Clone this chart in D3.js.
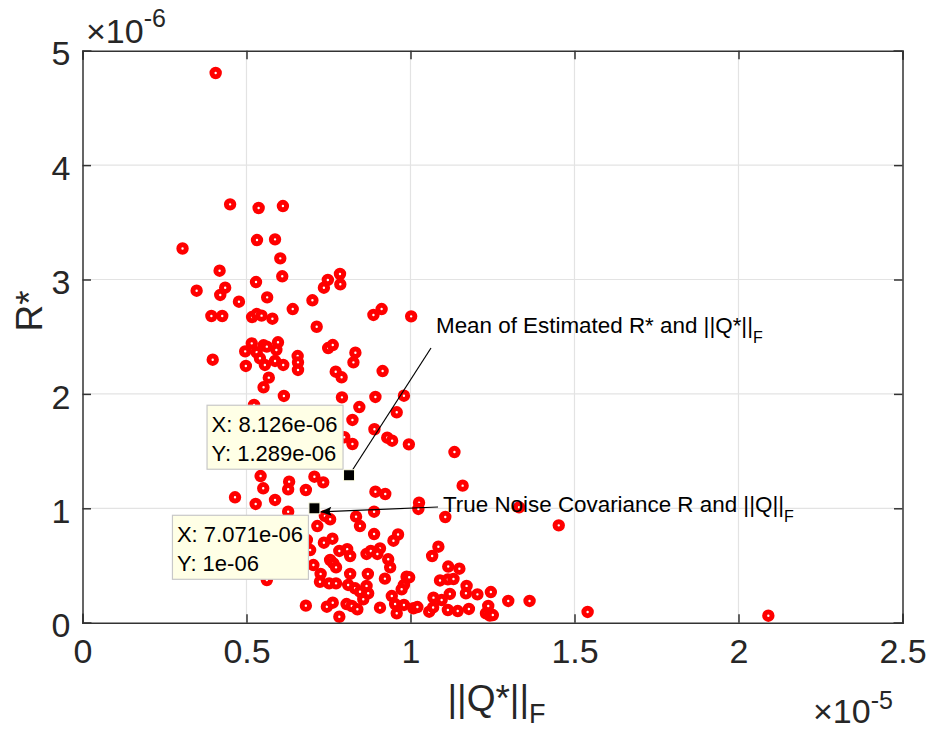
<!DOCTYPE html>
<html lang="en">
<head>
<meta charset="utf-8">
<title>R* vs ||Q*||F</title>
<script src="https://d3js.org/d3.v7.min.js"></script>
<style>
  body { margin: 0; padding: 0; background: #fff; overflow: hidden; }
  text { font-family: "Liberation Sans", Arial, Helvetica, sans-serif; }
</style>
</head>
<body>
<svg id="chart"></svg>
<script>
// ||Q*||_F estimates, in units of 1e-5
const qNorm = [
  0.406, 0.450, 0.537, 0.611, 0.305, 0.532, 0.587, 0.603, 0.418, 0.609,
  0.529, 0.348, 0.435, 0.420, 0.477, 0.563, 0.393, 0.426, 0.517, 0.531,
  0.546, 0.579, 0.641, 0.701, 0.736, 0.748, 0.785, 0.786, 0.714, 0.397,
  0.516, 0.496, 0.531, 0.552, 0.562, 0.596, 0.591, 0.541, 0.556, 0.587,
  0.612, 0.498, 0.656, 0.657, 0.657, 0.749, 0.763, 0.832, 0.826, 0.772,
  0.790, 0.568, 0.552, 0.887, 0.912, 1.002, 0.915, 0.791, 0.893, 0.980,
  0.844, 0.958, 0.823, 0.890, 0.929, 0.944, 0.995, 0.823, 0.798, 1.134,
  0.707, 0.734, 0.681, 0.893, 0.923, 1.026, 1.024, 1.159, 1.331, 1.106,
  1.452, 0.962, 0.948, 1.085, 1.066, 1.115, 1.149, 0.988, 0.996, 0.980,
  0.973, 1.090, 1.114, 1.131, 1.171, 1.169, 1.204, 1.245, 1.298, 1.363,
  1.070, 1.095, 1.120, 0.980, 1.009, 1.021, 1.057, 1.069, 1.114, 1.144,
  1.178, 1.230, 1.237, 1.242, 1.251, 1.540, 2.091, 0.889, 0.834, 0.846,
  0.739, 0.755, 0.716, 0.889, 0.762, 0.736, 0.684, 0.694, 0.783, 0.807,
  0.816, 0.866, 0.879, 0.907, 0.899, 0.755, 0.765, 0.773, 0.932, 0.938,
  0.704, 0.726, 0.724, 0.816, 0.870, 0.922, 0.752, 0.773, 0.810, 0.831,
  0.846, 0.866, 0.871, 0.856, 0.943, 0.953, 0.681, 0.745, 0.763, 0.805,
  0.821, 0.838, 0.907, 0.958, 0.783, 0.614, 0.523, 0.543, 0.551, 0.630,
  0.627, 0.465, 0.528, 0.587, 0.627, 0.562
];

// R* estimates, in units of 1e-6
const rStar = [
  4.805, 3.657, 3.625, 3.642, 3.271, 3.345, 3.351, 3.185, 3.077, 3.028,
  2.978, 2.902, 2.928, 2.865, 2.806, 2.844, 2.681, 2.681, 2.672, 2.698,
  2.684, 2.657, 2.742, 2.818, 2.928, 2.996, 3.048, 2.958, 2.587, 2.299,
  2.442, 2.372, 2.364, 2.425, 2.413, 2.451, 2.384, 2.311, 2.253, 2.288,
  2.253, 2.244, 2.331, 2.276, 2.209, 2.401, 2.427, 2.360, 2.276, 2.194,
  2.145, 2.142, 2.058, 2.690, 2.742, 2.678, 2.200, 1.970, 1.973, 1.984,
  1.885, 1.839, 1.772, 1.691, 1.617, 1.591, 1.559, 1.562, 1.621, 1.492,
  1.276, 1.227, 1.160, 1.145, 1.125, 1.049, 0.994, 1.198, 1.009, 0.924,
  0.851, 0.771, 0.717, 0.664, 0.583, 0.491, 0.472, 0.402, 0.397, 0.330,
  0.292, 0.369, 0.379, 0.382, 0.321, 0.257, 0.248, 0.268, 0.190, 0.190,
  0.219, 0.198, 0.251, 0.155, 0.126, 0.137, 0.096, 0.133, 0.111, 0.102,
  0.120, 0.082, 0.146, 0.063, 0.067, 0.094, 0.061, 0.970, 0.927, 0.845,
  0.933, 0.904, 0.845, 0.775, 0.734, 0.699, 0.723, 0.635, 0.627, 0.642,
  0.583, 0.601, 0.627, 0.650, 0.601, 0.548, 0.519, 0.484, 0.554, 0.484,
  0.504, 0.426, 0.358, 0.426, 0.426, 0.385, 0.344, 0.344, 0.330, 0.301,
  0.271, 0.321, 0.257, 0.205, 0.233, 0.163, 0.149, 0.140, 0.175, 0.163,
  0.146, 0.117, 0.131, 0.082, 0.052, 1.982, 1.903, 1.282, 1.175, 1.233,
  1.166, 1.096, 1.038, 1.073, 0.970, 0.373
];

const xTicks = [0, 0.5, 1, 1.5, 2, 2.5];
const xTickLabels = ["0", "0.5", "1", "1.5", "2", "2.5"];
const yTicks = [0, 1, 2, 3, 4, 5];
const yTickLabels = ["0", "1", "2", "3", "4", "5"];

// data tips: mean of estimates and the true values
const tipQ = [0.8126, 0.7071];
const tipR = [1.289, 1.0];
const tipXText = ["X: 8.126e-06", "X: 7.071e-06"];
const tipYText = ["Y: 1.289e-06", "Y: 1e-06"];

const width = 930, height = 740;
const margin = { left: 82.5, right: 27.5, top: 50.7, bottom: 117.3 };
const axisColor = "#333333";

const svg = d3.select("#chart")
  .attr("width", width)
  .attr("height", height);

const x = d3.scaleLinear().domain([0, 2.5]).range([margin.left, width - margin.right]);
const y = d3.scaleLinear().domain([0, 5]).range([height - margin.bottom, margin.top]);

const x0 = x.range()[0], x1 = x.range()[1];
const y0 = y.range()[0], y1 = y.range()[1];

// grid
const grid = svg.append("g").attr("stroke", "#e3e3e3").attr("stroke-width", 1.2);
grid.selectAll(".gx").data(xTicks.slice(1, -1)).join("line")
  .attr("x1", d => x(d)).attr("x2", d => x(d))
  .attr("y1", y1).attr("y2", y0);
grid.selectAll(".gy").data(yTicks.slice(1, -1)).join("line")
  .attr("x1", x0).attr("x2", x1)
  .attr("y1", d => y(d)).attr("y2", d => y(d));

// points
const pts = d3.zip(qNorm, rStar);
svg.append("g")
  .selectAll("circle")
  .data(pts)
  .join("circle")
  .attr("cx", d => x(d[0]))
  .attr("cy", d => y(d[1]))
  .attr("r", 3.7)
  .attr("fill", "#fff")
  .attr("stroke", "#ff0000")
  .attr("stroke-width", 5);

// axes (ticks inward, box on)
const tickLen = 8.5;
const bottomAxis = d3.axisBottom(x).tickValues(xTicks).tickSize(-tickLen).tickFormat((d, i) => xTickLabels[i]).tickPadding(16);
const leftAxis = d3.axisLeft(y).tickValues(yTicks).tickSize(-tickLen).tickFormat((d, i) => yTickLabels[i]).tickPadding(12);
const topAxis = d3.axisTop(x).tickValues(xTicks).tickSize(-tickLen).tickFormat("");
const rightAxis = d3.axisRight(y).tickValues(yTicks).tickSize(-tickLen).tickFormat("");

function styleAxis(g) {
  g.select(".domain").attr("stroke", axisColor).attr("stroke-width", 1.5);
  g.selectAll(".tick line").attr("stroke", axisColor).attr("stroke-width", 1.5);
  g.selectAll(".tick text").attr("fill", "#262626").attr("font-size", 34)
    .attr("font-family", "Liberation Sans, Arial, sans-serif");
}

svg.append("g").attr("transform", `translate(0,${y0})`).call(bottomAxis).call(styleAxis);
svg.append("g").attr("transform", `translate(${x0},0)`).call(leftAxis).call(styleAxis)
  .selectAll(".tick text").attr("dy", "0.42em");
svg.append("g").attr("transform", `translate(0,${y1})`).call(topAxis).call(styleAxis);
svg.append("g").attr("transform", `translate(${x1},0)`).call(rightAxis).call(styleAxis);
svg.selectAll(".domain").attr("stroke-linecap", "square");

// exponent labels
const expTop = svg.append("text").attr("x", 86).attr("y", 42.5).attr("fill", "#262626").attr("font-size", 34);
expTop.append("tspan").text("\u00d710");
expTop.append("tspan").attr("font-size", 25).attr("dy", -16).text("-6");

const expBot = svg.append("text").attr("x", 813).attr("y", 723).attr("fill", "#262626").attr("font-size", 34);
expBot.append("tspan").text("\u00d710");
expBot.append("tspan").attr("font-size", 25).attr("dy", -14).text("-5");

// axis labels
const xl = svg.append("text")
  .attr("x", (x0 + x1) / 2 + 4).attr("y", 711)
  .attr("text-anchor", "middle").attr("fill", "#262626").attr("font-size", 37);
xl.append("tspan").text("||Q*||");
xl.append("tspan").attr("font-size", 27).attr("dy", 12).text("F");

svg.append("text")
  .attr("transform", `translate(42,311) rotate(-90)`)
  .attr("text-anchor", "middle").attr("fill", "#262626").attr("font-size", 37)
  .text("R*");

// annotations
const ann = svg.append("g").attr("stroke", "#000").attr("stroke-width", 1.2);
ann.append("line")
  .attr("x1", 431).attr("y1", 348)
  .attr("x2", x(tipQ[0]) + 2).attr("y2", y(tipR[0]) - 3);
ann.append("line")
  .attr("x1", 438).attr("y1", 507)
  .attr("x2", x(tipQ[1]) + 6).attr("y2", y(tipR[1]) + 3.5);
// arrow head on the true-value arrow
{
  const ax = x(tipQ[1]) + 6, ay = y(tipR[1]) + 3.5;
  const ang = Math.atan2(507 - ay, 438 - ax);
  const L = 11, W = 4.5;
  const bx = ax + L * Math.cos(ang), by = ay + L * Math.sin(ang);
  const p1 = [bx - W * Math.sin(ang), by + W * Math.cos(ang)];
  const p2 = [bx + W * Math.sin(ang), by - W * Math.cos(ang)];
  svg.append("path")
    .attr("d", `M${ax},${ay}L${p1[0]},${p1[1]}L${bx - 2 * Math.cos(ang)},${by - 2 * Math.sin(ang)}L${p2[0]},${p2[1]}Z`)
    .attr("fill", "#000");
}

const t1 = svg.append("text").attr("x", 436).attr("y", 333).attr("font-size", 22.4).attr("fill", "#000");
t1.append("tspan").text("Mean of Estimated R* and ||Q*||");
t1.append("tspan").attr("font-size", 16).attr("dy", 10).text("F");

const t2 = svg.append("text").attr("x", 443).attr("y", 512).attr("font-size", 22.4).attr("fill", "#000");
t2.append("tspan").text("True Noise Covariance R and ||Q||");
t2.append("tspan").attr("font-size", 16).attr("dy", 10).text("F");

// data tips
const tipPlace = [
  { right: -6, dir: "up" },
  { right: -6, dir: "down" }
];
tipQ.forEach((q, i) => {
  const px = x(q), py = y(tipR[i]);
  const g = svg.append("g");
  const box = g.append("rect").attr("fill", "#ffffe6").attr("stroke", "#c8c8c8").attr("stroke-width", 1.2);
  const tx = g.append("text").attr("font-size", 22).attr("fill", "#000");
  const l1 = tx.append("tspan").text(tipXText[i]);
  const l2 = tx.append("tspan").text(tipYText[i]);
  const w = Math.max(l1.node().getComputedTextLength(), l2.node().getComputedTextLength()) + 10;
  const h = 64;
  const bx = px + tipPlace[i].right - w;
  const by = tipPlace[i].dir === "up" ? py - 6 - h : py + 7;
  box.attr("x", bx).attr("y", by).attr("width", w).attr("height", h);
  l1.attr("x", bx + 4.5).attr("y", by + 27);
  l2.attr("x", bx + 4.5).attr("y", by + 56);
  g.append("rect")
    .attr("x", px - 5.5).attr("y", py - 5.5).attr("width", 11).attr("height", 11)
    .attr("fill", "#000").attr("stroke", "#ffffe6").attr("stroke-width", 1);
});
</script>
</body>
</html>
